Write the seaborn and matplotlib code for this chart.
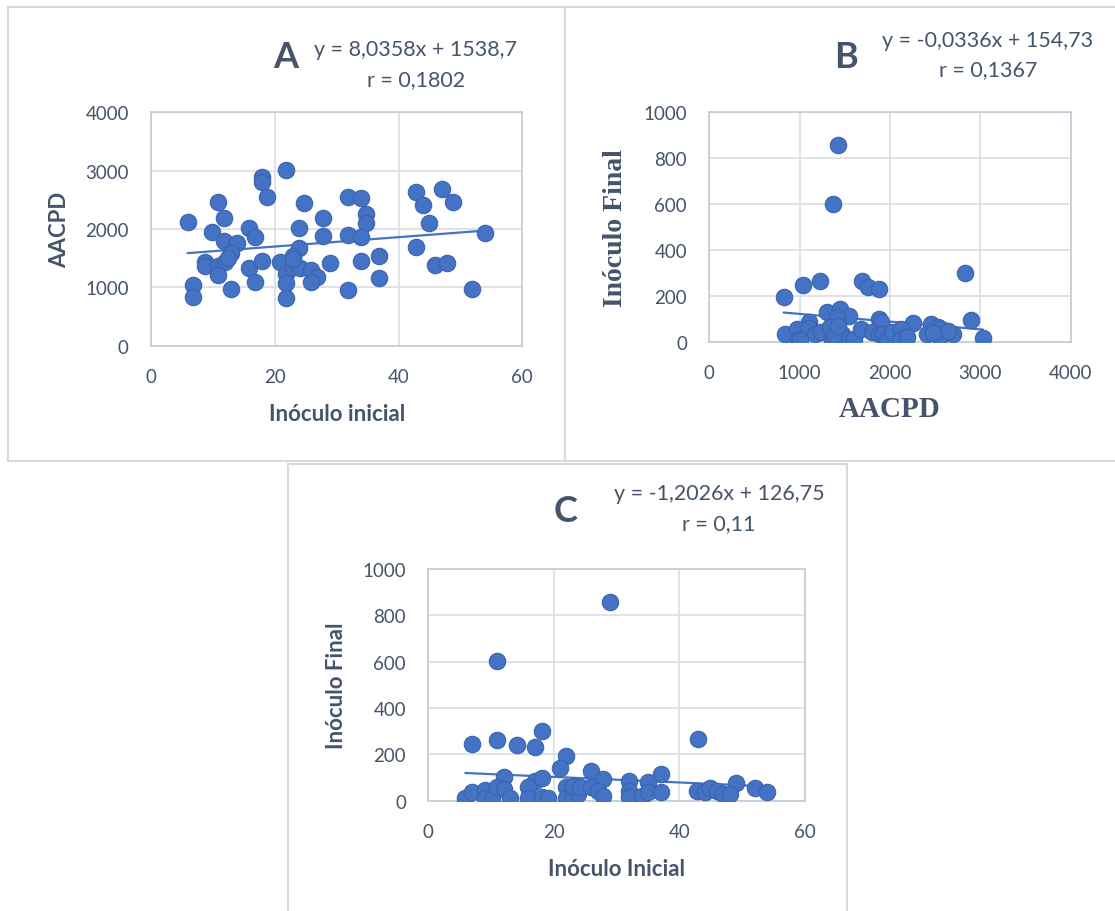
import numpy as np
import pandas as pd
import matplotlib
matplotlib.use('Agg')
import matplotlib.pyplot as plt
from matplotlib.patches import Rectangle
import seaborn as sns

# Panel A: Inóculo inicial vs AACPD
a_x = [5.9, 10.9, 11.8, 9.8, 11.8, 13.9, 12.9, 8.8, 8.8, 10.9, 12.0, 10.9, 6.8, 6.8, 12.9,
       15.8, 16.8, 15.8, 17.9, 16.8, 17.9, 17.9, 18.8, 21.8, 24.8, 23.9, 23.9, 22.9, 20.8, 21.8,
       22.9, 21.8, 21.8, 24.0, 25.8, 26.9, 25.8, 27.8, 27.8, 28.9, 31.9, 33.9, 34.8, 34.8, 31.9,
       33.9, 33.9, 36.9, 36.9, 31.9, 42.9, 47.0, 43.9, 48.8, 44.9, 42.9, 45.9, 47.9, 51.9, 54.0,
       23.0, 12.5]
a_y = [2114, 2469, 2194, 1954, 1800, 1760, 1589, 1429, 1371, 1360, 1429, 1211, 1040, 829, 971,
       2011, 1857, 1331, 1451, 1097, 2886, 2811, 2554, 3017, 2440, 2017, 1669, 1543, 1440, 1229,
       1343, 1074, 811, 1326, 1303, 1171, 1086, 2183, 1874, 1411, 2543, 2526, 2257, 2103, 1897,
       1869, 1446, 1543, 1160, 960, 2629, 2686, 2411, 2469, 2097, 1697, 1383, 1411, 971, 1926,
       1480, 1500]

# Panel B: AACPD vs Inóculo Final
b_x = [1422, 1367, 822, 1037, 1230, 1693, 1759, 1878, 2830, 2896, 3030, 1304, 1452, 1544, 1415,
       1107, 1878, 1896, 2259, 2452, 2533, 841, 970, 978, 1100, 1174, 1237, 1341, 1359, 1470,
       1526, 1600, 1674, 1804, 1878, 1926, 1970, 2026, 2119, 2119, 2193, 2415, 2556, 2563, 2693,
       2637, 1000, 1380, 1420, 2480]
b_y = [858, 600, 196, 247, 264, 266, 237, 230, 301, 96, 16, 131, 142, 113, 106,
       87, 99, 84, 80, 77, 65, 33, 55, 9, 58, 32, 44, 63, 9, 33,
       12, 12, 55, 41, 33, 33, 9, 41, 55, 12, 19, 33, 19, 55, 33,
       48, 8, 30, 70, 40]

# Panel C: Inóculo Inicial vs Inóculo Final
c_x = [28.9, 11.0, 7.0, 11.0, 14.1, 17.0, 18.1, 43.0, 21.9, 21.0, 25.9, 12.1, 17.0, 18.1, 27.9,
       32.0, 35.0, 37.0, 49.0, 52.0, 54.0, 5.9, 7.0, 9.0, 9.0, 10.1, 11.0, 12.1, 13.0, 15.9,
       15.9, 18.1, 19.1, 21.9, 21.9, 23.0, 23.9, 23.1, 24.1, 25.9, 27.1, 27.9, 32.0, 32.0, 34.0,
       35.0, 37.0, 42.8, 44.1, 44.9, 46.0, 47.0, 48.1]
c_y = [856, 601, 245, 263, 240, 230, 302, 266, 194, 140, 129, 101, 86, 98, 94,
       86, 82, 115, 76, 53, 36, 13, 36, 46, 10, 7, 58, 50, 10, 58,
       10, 14, 10, 58, 10, 10, 29, 65, 60, 58, 43, 19, 43, 17, 22,
       36, 39, 43, 36, 53, 43, 29, 27]

# trendline coefficients (slope, intercept) as printed on the chart
trend_a = (8.0358, 1538.7)
trend_b = (-0.0336, 154.73)
trend_c = (-1.2026, 126.75)

sns.set_style('white')
plt.rcParams['font.family'] = ['Lato', 'DejaVu Sans']

TXT = '#44546A'
BLUE = '#4472C4'
GRID = '#D9DDE3'
SERIF = ['Liberation Serif', 'DejaVu Serif']
W, H = 1115, 912


def px_axes(fig, x0, y0, x1, y1):
    return fig.add_axes([x0 / W, 1 - y1 / H, (x1 - x0) / W, (y1 - y0) / H])


def style_axes(ax, xlim, ylim, xticks, yticks):
    ax.set_xlim(*xlim)
    ax.set_ylim(*ylim)
    ax.set_xticks(xticks)
    ax.set_yticks(yticks)
    ax.grid(True, color=GRID, lw=1.2)
    ax.set_axisbelow(True)
    for s in ax.spines.values():
        s.set_color('#C4CBD6')
        s.set_linewidth(1.2)
    ax.tick_params(length=0, labelsize=13.5, labelcolor=TXT, pad=16)


def draw(ax, x, y, trend):
    df = pd.DataFrame({'x': x, 'y': y})
    xs = np.array([df['x'].min(), df['x'].max()])
    tl = pd.DataFrame({'x': xs, 'y': trend[0] * xs + trend[1]})
    sns.scatterplot(data=df, x='x', y='y', ax=ax, s=140, color=BLUE,
                    edgecolor='#3A63AE', linewidth=0.8, zorder=3)
    sns.lineplot(data=tl, x='x', y='y', ax=ax, color=BLUE, lw=1.6, zorder=2)


fig = plt.figure(figsize=(W / 100, H / 100), dpi=100)

# panel frames
for (x0, y0, x1, y1) in [(8, 8, 565, 462), (565, 8, 1118, 462), (288, 465, 847, 915)]:
    fig.patches.append(Rectangle((x0 / W, 1 - y1 / H), (x1 - x0) / W, (y1 - y0) / H,
                                 transform=fig.transFigure, fill=False,
                                 edgecolor='#D6D9DD', lw=1.5))

eq = dict(fontsize=15.5, color=TXT, ha='center', va='center')
big = dict(fontsize=26, fontweight='bold', color=TXT, ha='center', va='center')

# A
axA = px_axes(fig, 151, 113.3, 522.3, 346.7)
draw(axA, a_x, a_y, trend_a)
style_axes(axA, (0, 60), (0, 4000), [0, 20, 40, 60], [0, 1000, 2000, 3000, 4000])
axA.set_xlabel('Inóculo inicial', fontsize=16, fontweight='bold', color=TXT, labelpad=13)
axA.set_ylabel('AACPD', fontsize=16, fontweight='bold', color=TXT, labelpad=11)
fig.text(286 / W, 1 - 57 / H, 'A', **big)
fig.text(416 / W, 1 - 50 / H, 'y = 8,0358x + 1538,7', **eq)
fig.text(416 / W, 1 - 80 / H, 'r = 0,1802', **eq)

# B
axB = px_axes(fig, 709.3, 113.3, 1070.7, 342.7)
draw(axB, b_x, b_y, trend_b)
style_axes(axB, (0, 4000), (0, 1000), [0, 1000, 2000, 3000, 4000], [0, 200, 400, 600, 800, 1000])
axB.set_xlabel('AACPD', fontsize=21, fontweight='bold', color=TXT, labelpad=10, family=SERIF)
axB.set_ylabel('Inóculo Final', fontsize=20, fontweight='bold', color=TXT, labelpad=11, family=SERIF)
fig.text(846 / W, 1 - 57 / H, 'B', **big)
fig.text(988 / W, 1 - 41 / H, 'y = -0,0336x + 154,73', **eq)
fig.text(988 / W, 1 - 70 / H, 'r = 0,1367', **eq)

# C
axC = px_axes(fig, 428.3, 570, 805, 801.7)
draw(axC, c_x, c_y, trend_c)
style_axes(axC, (0, 60), (0, 1000), [0, 20, 40, 60], [0, 200, 400, 600, 800, 1000])
axC.set_xlabel('Inóculo Inicial', fontsize=16, fontweight='bold', color=TXT, labelpad=13)
axC.set_ylabel('Inóculo Final', fontsize=16, fontweight='bold', color=TXT, labelpad=11)
fig.text(566 / W, 1 - 512 / H, 'C', **big)
fig.text(719 / W, 1 - 494 / H, 'y = -1,2026x + 126,75', **eq)
fig.text(719 / W, 1 - 524 / H, 'r = 0,11', **eq)

fig.savefig('out.png', dpi=100, facecolor='white')
